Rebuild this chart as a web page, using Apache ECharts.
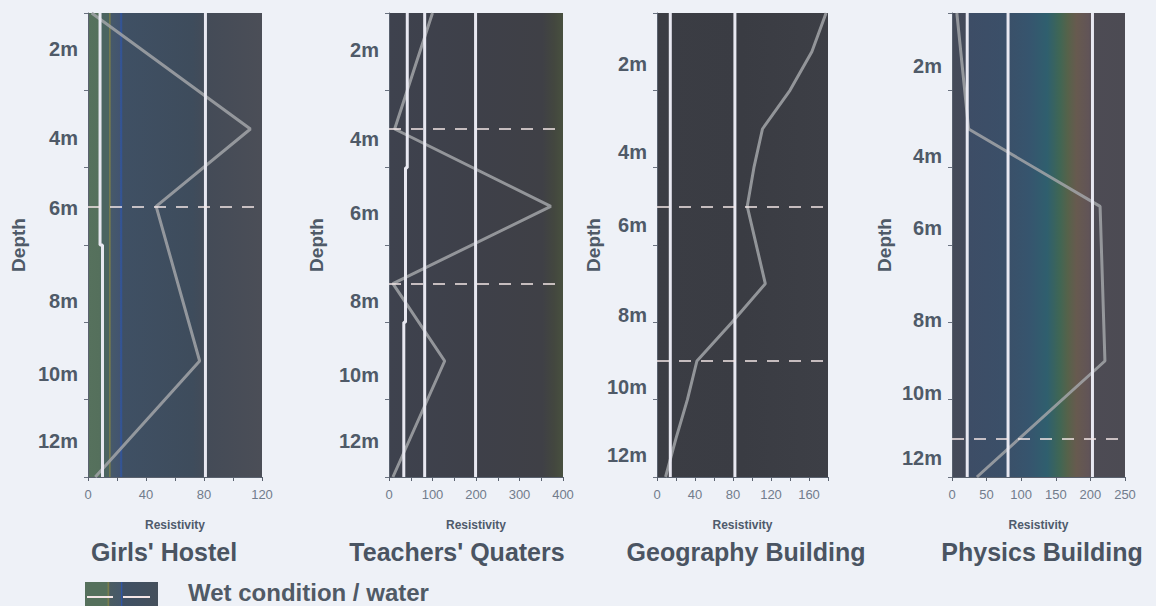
<!DOCTYPE html>
<html>
<head>
<meta charset="utf-8">
<script src="https://cdn.jsdelivr.net/npm/echarts@6/dist/echarts.min.js"></script>
<style>
html,body{margin:0;padding:0;background:#eef1f7;}
#chart{width:1156px;height:606px;}
</style>
</head>
<body>
<div id="chart"></div>
<script>
// ---------- data ----------
const panelTitles = ["Girls' Hostel", "Teachers' Quaters", "Geography Building", "Physics Building"];
const depthLabels = ['2m', '4m', '6m', '8m', '10m', '12m'];
const depthTicks = [1, 3, 5, 7, 9, 11, 13];
const legendLabel = 'Wet condition / water';
const xAxisName = 'Resistivity';
const yAxisName = 'Depth';

// resistivity profiles: [resistivity, depth]
const girlsHostel = [[2.5, 1], [112, 4], [47, 6], [77, 10], [5, 13]];
const teachersQuaters = [[100, 1], [13, 4], [372, 6], [9, 8], [128, 10], [9, 13]];
const geographyBuilding = [[178, 1], [163, 2], [140, 3], [111, 4], [102, 5], [95, 6], [114, 8], [79, 9], [42, 10], [32, 11], [20, 12], [9, 13]];
const physicsBuilding = [[7, 1], [24, 4], [214, 6], [221, 10], [36, 13]];

// wet condition / water depths (dashed lines)
const wetGirls = [6];
const wetTeachers = [4, 8];
const wetGeography = [6, 10];
const wetPhysics = [12];

// white reference lines in each panel: [resistivity, depth]
const refGirls = [[[8.3, 1], [8.3, 7], [10, 7], [10, 13]], [[81, 1], [81, 13]]];
const refTeachers = [[[42, 1], [42, 5], [38, 5], [38, 9], [34, 9], [34, 13]], [[82, 1], [82, 13]], [[199, 1], [199, 13]]];
const refGeography = [[[14, 1], [14, 13]], [[82, 1], [82, 13]]];
const refPhysics = [[[22, 1], [22, 13]], [[81, 1], [81, 13]], [[203, 1], [203, 13]]];

// x axis tick labels and ranges
const xLabelsGirls = [0, 40, 80, 120];
const xLabelsTeachers = [0, 100, 200, 300, 400];
const xLabelsGeography = [0, 40, 80, 120, 160];
const xLabelsPhysics = [0, 50, 100, 150, 200, 250];
const xMax = [120, 400, 180, 250];
const xStep = [20, 50, 20, 50];

const profiles = [girlsHostel, teachersQuaters, geographyBuilding, physicsBuilding];
const wetDepths = [wetGirls, wetTeachers, wetGeography, wetPhysics];
const refLines = [refGirls, refTeachers, refGeography, refPhysics];
const xLabels = [xLabelsGirls, xLabelsTeachers, xLabelsGeography, xLabelsPhysics];

// ---------- layout & style ----------
const FONT = '"Liberation Sans", Arial, sans-serif';
const LAYOUT = {
  grids: [
    { left: 88, top: 13, width: 174, height: 464 },
    { left: 389, top: 13, width: 174, height: 464 },
    { left: 657, top: 13, width: 171, height: 464 },
    { left: 952, top: 13, width: 173, height: 464 }
  ],
  // where the depth labels sit on each panel's depth scale
  labelPos: [
    [1.93, 4.24, 6.05, 8.46, 10.33, 12.06],
    [1.96, 4.26, 6.16, 8.46, 10.35, 12.06],
    [2.32, 4.6, 6.47, 8.82, 10.66, 12.42],
    [2.36, 4.7, 6.57, 8.95, 10.82, 12.5]
  ],
  nameGap: [60, 63, 52, 58],
  titleX: [164, 457, 746, 1042],
  titleY: 552
};

const BACKGROUNDS = [
  [[0, '#56715d'], [0.065, '#55705c'], [0.08, '#4b6460'], [0.118, '#4b6460'], [0.125, '#7d7f4a'], [0.135, '#46596a'],
   [0.182, '#425470'], [0.19, '#2f55a5'], [0.2, '#3f5064'], [0.6, '#3e4c5c'], [0.69, '#444b57'], [1, '#4b4e57']],
  [[0, '#3e424e'], [0.5, '#3e4049'], [0.88, '#3f4046'], [0.95, '#43473f'], [1, '#48503f']],
  [[0, '#3b3d44'], [0.5, '#3a3c43'], [1, '#3d3f46']],
  [[0, '#454b59'], [0.08, '#444a5a'], [0.1, '#3d4d66'], [0.3, '#3b4f68'], [0.45, '#36556e'], [0.55, '#2f5f6e'],
   [0.62, '#3f6655'], [0.67, '#56624a'], [0.72, '#675a4f'], [0.79, '#615457'], [0.82, '#4d4b54'], [1, '#4c4b53']]
];

function gradient(stops) {
  return {
    type: 'linear', x: 0, y: 0, x2: 1, y2: 0,
    colorStops: stops.map(s => ({ offset: s[0], color: s[1] }))
  };
}

const grids = [], xAxes = [], yAxes = [], series = [];
for (let i = 0; i < 4; i++) {
  grids.push(Object.assign({
    show: true, borderWidth: 0, backgroundColor: gradient(BACKGROUNDS[i])
  }, LAYOUT.grids[i]));

  xAxes.push({
    gridIndex: i, type: 'value', min: 0, max: xMax[i], interval: xStep[i],
    position: 'bottom',
    axisLine: { show: true, onZero: false, lineStyle: { color: '#59616e', width: 1 } },
    axisTick: { show: true, length: 4, lineStyle: { color: '#59616e' } },
    axisLabel: { customValues: xLabels[i], color: '#717c8c', fontSize: 13, margin: 11, fontFamily: FONT },
    splitLine: { show: false },
    name: xAxisName, nameLocation: 'middle', nameGap: 42,
    nameTextStyle: { fontSize: 12, fontWeight: 'bold', color: '#4f5b6c', fontFamily: FONT }
  });

  const pos = LAYOUT.labelPos[i];
  yAxes.push({
    gridIndex: i, type: 'value', inverse: true, min: 1, max: 13,
    axisLine: { show: true, onZero: false, lineStyle: { color: '#59616e', width: 1 } },
    axisTick: { show: true, customValues: depthTicks, length: 4, lineStyle: { color: '#6a7280' } },
    axisLabel: {
      customValues: pos,
      formatter: function (v) {
        const k = pos.findIndex(p => Math.abs(p - v) < 1e-6);
        return k >= 0 ? depthLabels[k] : '';
      },
      color: '#4f5a68', fontSize: 20, fontWeight: 'bold', margin: 10, fontFamily: FONT
    },
    splitLine: { show: false },
    name: yAxisName, nameLocation: 'middle', nameRotate: 90, nameGap: LAYOUT.nameGap[i],
    nameTextStyle: { fontSize: 19, fontWeight: 'bold', color: '#4f5a68', fontFamily: FONT }
  });

  series.push({
    type: 'line', xAxisIndex: i, yAxisIndex: i, data: profiles[i],
    symbol: 'none', silent: true, z: 3,
    lineStyle: { color: '#a2a5a8', width: 3, opacity: 0.85 },
    markLine: {
      silent: true, symbol: ['none', 'none'], label: { show: false },
      lineStyle: { color: '#f3e6e6', width: 1.6, type: [12, 10] },
      data: wetDepths[i].map(d => ({ yAxis: d }))
    }
  });

  refLines[i].forEach(r => {
    series.push({
      type: 'line', xAxisIndex: i, yAxisIndex: i, data: r,
      symbol: 'none', silent: true, z: 4,
      lineStyle: { color: '#e8e8f1', width: 3 }
    });
  });
}

const graphics = panelTitles.map((t, i) => ({
  type: 'text', x: LAYOUT.titleX[i], y: LAYOUT.titleY,
  style: { text: t, fill: '#4a5462', font: 'bold 25px ' + FONT, align: 'center', verticalAlign: 'middle' }
}));

// legend swatch
graphics.push({
  type: 'rect', shape: { x: 85, y: 582, width: 73, height: 24 },
  style: {
    fill: gradient([[0, '#55705c'], [0.3, '#55705c'], [0.32, '#7d7f4a'], [0.34, '#4a5c62'], [0.5, '#46586a'],
                    [0.5, '#2f55a5'], [0.52, '#3f5064'], [1, '#45505c']])
  }
});
graphics.push({ type: 'line', shape: { x1: 87, y1: 597, x2: 113, y2: 597 }, style: { stroke: '#f4e6e6', lineWidth: 2 } });
graphics.push({ type: 'line', shape: { x1: 123, y1: 597, x2: 150, y2: 597 }, style: { stroke: '#f4e6e6', lineWidth: 2 } });
graphics.push({
  type: 'text', x: 188, y: 592,
  style: { text: legendLabel, fill: '#505a66', font: 'bold 24px ' + FONT, align: 'left', verticalAlign: 'middle' }
});

const chart = echarts.init(document.getElementById('chart'), null, { renderer: 'svg' });
chart.setOption({
  backgroundColor: '#eef1f7',
  animation: false,
  grid: grids,
  xAxis: xAxes,
  yAxis: yAxes,
  series: series,
  graphic: graphics
});
</script>
</body>
</html>
